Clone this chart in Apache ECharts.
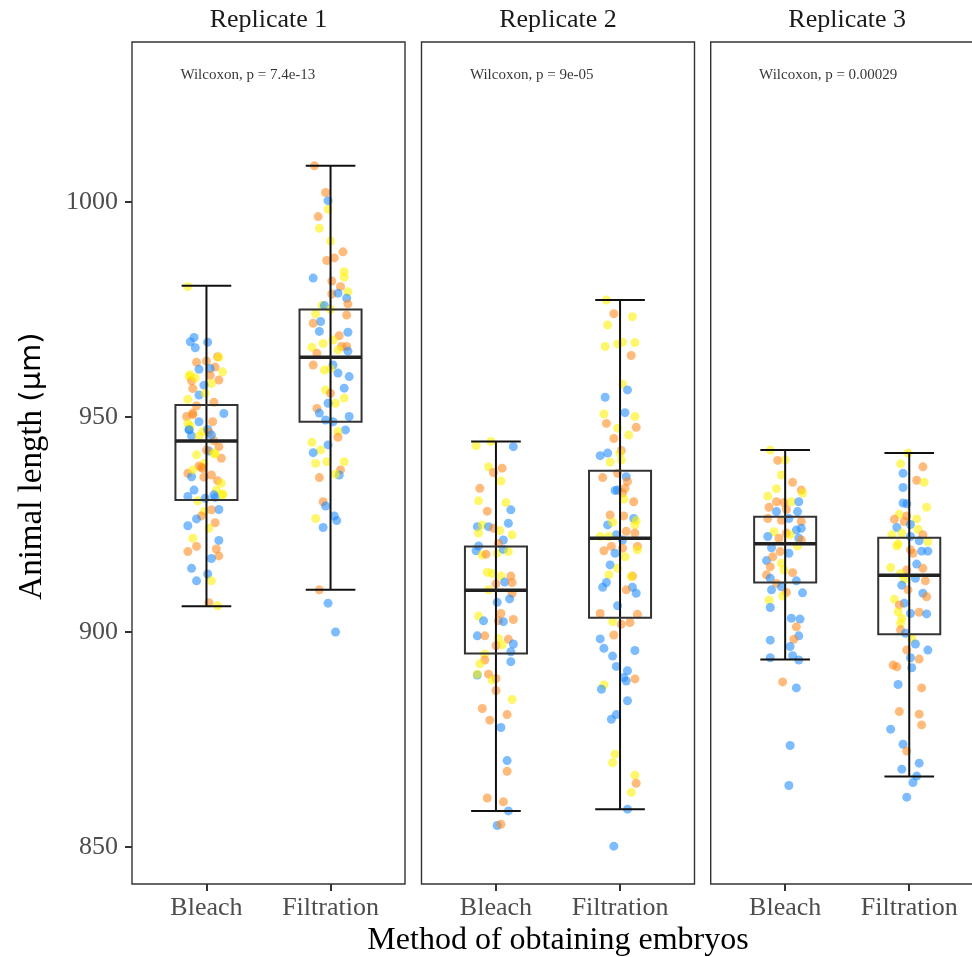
<!DOCTYPE html>
<html>
<head>
<meta charset="utf-8">
<script src="https://cdn.jsdelivr.net/npm/echarts@6/dist/echarts.min.js"></script>
<style>html,body{margin:0;padding:0;background:#fff;overflow:hidden;width:972px;height:957px}#c{width:990px;height:957px}</style>
</head>
<body>
<div id="c"></div>
<script>
// ---------- data ----------
const categories = ['Bleach', 'Filtration'];
const replicates = ['Replicate 1', 'Replicate 2', 'Replicate 3'];
const pLabels = ['Wilcoxon, p = 7.4e-13', 'Wilcoxon, p = 9e-05', 'Wilcoxon, p = 0.00029'];
const yTicks = [850, 900, 950, 1000];

// box statistics: [lower whisker, Q1, median, Q3, upper whisker]
const rep1Box = [[906.0, 930.7, 944.4, 952.8, 980.5], [909.8, 948.9, 963.9, 975.0, 1008.4]];
const rep2Box = [[858.4, 895.0, 909.7, 919.9, 944.3], [858.8, 903.3, 921.8, 937.5, 977.2]];
const rep3Box = [[893.6, 911.5, 920.5, 926.8, 942.3], [866.4, 899.5, 913.2, 921.9, 941.6]];

// jittered points: [jitter offset, length (µm), colour group]
const rep1Bleach = [[-0.15,980.3,'y'],[-0.13,967.5,'b'],[-0.10,968.5,'b'],[-0.09,966.1,'b'],[0.01,967.4,'b'],[0.09,964.0,'o'],[0.10,963.9,'y'],[-0.08,962.7,'o'],[0.00,963.0,'o'],[0.07,961.6,'o'],[0.13,960.5,'y'],[-0.06,961.1,'b'],[0.03,961.3,'b'],[-0.14,959.5,'y'],[-0.12,958.4,'o'],[0.03,959.7,'o'],[0.10,958.6,'o'],[0.04,957.8,'y'],[-0.11,956.6,'o'],[-0.02,957.4,'b'],[-0.06,955.1,'b'],[-0.01,955.5,'y'],[-0.15,954.1,'y'],[0.06,953.4,'o'],[-0.08,952.6,'o'],[0.14,950.8,'b'],[-0.16,950.1,'o'],[-0.11,950.5,'o'],[-0.06,948.9,'b'],[-0.15,948.5,'y'],[0.05,948.9,'o'],[-0.14,947.1,'b'],[-0.03,946.6,'y'],[0.01,947.1,'b'],[0.02,946.4,'o'],[-0.12,945.6,'b'],[-0.06,945.6,'y'],[0.06,944.5,'o'],[0.10,943.1,'o'],[-0.08,941.2,'y'],[0.02,942.1,'b'],[0.12,940.4,'o'],[0.07,941.4,'y'],[-0.06,938.6,'o'],[-0.02,939.2,'y'],[-0.04,938.3,'o'],[-0.15,936.9,'o'],[-0.12,936.1,'b'],[-0.02,936.0,'o'],[0.04,936.5,'o'],[0.09,935.2,'o'],[0.12,934.6,'y'],[-0.11,937.7,'y'],[-0.10,933.0,'b'],[0.08,933.0,'y'],[0.13,932.1,'y'],[-0.15,931.5,'b'],[-0.07,930.5,'y'],[-0.01,931.1,'b'],[0.07,931.3,'b'],[0.10,928.5,'b'],[0.04,928.4,'o'],[-0.02,928.0,'y'],[-0.04,927.0,'o'],[-0.08,926.3,'b'],[0.07,925.4,'o'],[-0.15,924.7,'b'],[0.02,924.1,'y'],[-0.11,921.8,'y'],[0.10,921.3,'b'],[-0.08,919.9,'o'],[0.08,919.3,'o'],[-0.15,918.7,'o'],[0.10,917.7,'o'],[0.04,917.1,'b'],[-0.12,914.8,'b'],[0.01,913.5,'b'],[0.04,911.9,'y'],[-0.08,911.9,'b'],[0.02,906.8,'o'],[0.09,906.1,'y'],[-0.11,950.9,'o'],[-0.13,947.9,'y'],[-0.14,947.0,'b'],[0.04,945.8,'b'],[0.00,942.3,'o'],[0.06,941.6,'y'],[-0.03,938.0,'o'],[0.06,931.9,'b'],[0.13,931.9,'y'],[-0.13,959.8,'y'],[-0.09,959.1,'y']];
const rep1Filtration = [[-0.13,1008.4,'o'],[-0.04,1002.2,'o'],[-0.02,1000.3,'b'],[-0.02,998.3,'y'],[-0.10,996.6,'o'],[-0.09,993.9,'y'],[0.00,990.9,'y'],[0.10,988.4,'o'],[0.03,987.0,'o'],[-0.03,986.4,'o'],[0.11,983.8,'y'],[0.11,982.5,'y'],[-0.14,982.3,'b'],[0.01,981.6,'o'],[0.08,980.3,'o'],[0.14,979.1,'y'],[0.01,978.6,'o'],[0.06,978.8,'b'],[0.13,977.6,'b'],[0.14,976.3,'o'],[-0.07,975.9,'y'],[-0.05,975.9,'b'],[0.00,975.0,'y'],[0.13,973.7,'o'],[-0.12,974.0,'y'],[-0.08,972.2,'b'],[-0.14,971.8,'o'],[-0.09,969.9,'b'],[0.14,969.7,'b'],[0.07,968.9,'o'],[0.02,967.9,'y'],[-0.06,967.1,'y'],[-0.15,966.2,'y'],[0.13,966.4,'o'],[0.09,966.4,'o'],[0.06,965.6,'y'],[-0.11,964.8,'o'],[0.14,965.3,'b'],[-0.14,962.1,'o'],[0.02,962.1,'b'],[-0.05,960.9,'y'],[0.00,961.2,'y'],[0.06,960.2,'b'],[0.15,959.4,'b'],[0.11,956.7,'b'],[-0.04,956.3,'y'],[0.00,955.5,'o'],[0.11,954.4,'y'],[0.04,953.2,'y'],[-0.02,953.2,'b'],[-0.11,952.0,'o'],[-0.09,950.9,'b'],[-0.04,949.3,'b'],[0.02,948.9,'b'],[0.15,950.1,'b'],[0.12,947.0,'b'],[0.06,946.6,'y'],[0.06,945.3,'o'],[-0.15,944.1,'y'],[-0.08,942.3,'y'],[-0.14,941.7,'b'],[-0.02,943.5,'b'],[-0.12,939.2,'y'],[-0.03,939.6,'y'],[0.11,939.6,'y'],[0.08,937.7,'o'],[0.07,936.5,'b'],[0.04,936.7,'y'],[-0.09,935.9,'o'],[-0.06,930.3,'o'],[-0.04,929.3,'b'],[-0.12,926.4,'y'],[0.03,927.0,'b'],[0.05,925.9,'b'],[-0.06,924.3,'b'],[-0.09,909.8,'o'],[-0.02,906.7,'b'],[0.04,900.0,'b']];
const rep2Bleach = [[-0.04,944.3,'y'],[-0.16,943.3,'y'],[0.14,943.1,'b'],[-0.06,938.4,'y'],[0.05,938.1,'o'],[-0.02,937.1,'o'],[0.04,935.1,'y'],[-0.13,933.4,'o'],[-0.14,930.5,'y'],[0.08,930.1,'y'],[0.12,928.4,'b'],[-0.07,928.1,'o'],[0.10,925.3,'b'],[-0.15,924.5,'b'],[-0.11,924.9,'y'],[-0.06,924.5,'b'],[-0.02,924.1,'o'],[0.03,923.6,'y'],[-0.14,923.0,'y'],[0.13,922.6,'y'],[0.06,921.4,'b'],[0.02,920.6,'o'],[-0.14,920.0,'b'],[-0.16,918.9,'b'],[-0.11,917.9,'y'],[-0.08,918.1,'o'],[0.01,918.3,'y'],[0.06,919.2,'b'],[0.10,918.7,'y'],[-0.07,913.9,'y'],[-0.03,913.6,'y'],[0.04,913.0,'y'],[0.12,913.0,'o'],[0.07,911.6,'b'],[0.13,911.5,'o'],[0.00,911.2,'o'],[-0.06,909.8,'y'],[0.13,909.0,'o'],[0.01,906.9,'b'],[0.11,907.7,'b'],[-0.14,903.7,'y'],[0.04,904.3,'o'],[-0.10,902.6,'b'],[0.02,902.6,'o'],[0.06,902.4,'b'],[0.14,902.9,'o'],[-0.15,899.1,'b'],[-0.09,899.1,'o'],[0.02,898.5,'y'],[0.10,898.3,'o'],[0.00,896.8,'o'],[0.05,897.0,'y'],[0.14,897.2,'b'],[0.12,895.4,'b'],[-0.09,894.9,'y'],[-0.09,893.5,'o'],[-0.13,892.6,'y'],[0.12,893.1,'b'],[-0.15,890.0,'b'],[-0.15,890.2,'y'],[-0.06,890.2,'o'],[0.00,889.2,'o'],[-0.03,888.8,'y'],[0.00,886.4,'o'],[0.13,884.3,'y'],[-0.11,882.2,'o'],[0.09,880.8,'o'],[-0.05,879.5,'o'],[0.04,877.8,'b'],[0.09,870.1,'b'],[0.09,867.6,'o'],[-0.07,861.4,'o'],[0.06,860.5,'o'],[0.10,858.4,'b'],[0.01,855.0,'b'],[0.04,855.3,'o']];
const rep2Filtration = [[-0.11,977.2,'y'],[-0.05,974.0,'o'],[0.10,973.3,'y'],[-0.10,971.4,'y'],[-0.12,966.4,'y'],[-0.02,967.0,'y'],[0.02,967.4,'y'],[0.12,967.3,'y'],[0.09,964.3,'o'],[0.02,957.6,'y'],[0.06,956.3,'b'],[-0.12,954.6,'b'],[0.04,951.0,'b'],[-0.13,950.7,'y'],[0.12,950.1,'y'],[-0.11,948.5,'o'],[0.13,947.6,'o'],[-0.02,947.4,'y'],[0.07,945.8,'y'],[-0.05,945.0,'o'],[-0.16,941.0,'b'],[-0.10,941.6,'b'],[0.01,942.2,'o'],[0.00,941.6,'y'],[-0.08,939.5,'y'],[0.01,940.0,'y'],[-0.02,936.9,'o'],[-0.14,935.9,'o'],[0.05,936.1,'b'],[0.06,935.0,'o'],[0.04,933.4,'o'],[-0.04,932.9,'b'],[-0.02,933.0,'b'],[0.02,932.3,'o'],[0.03,930.9,'y'],[0.11,930.3,'o'],[-0.08,927.2,'o'],[0.03,927.0,'o'],[0.11,926.4,'b'],[0.13,925.9,'y'],[-0.10,924.9,'b'],[-0.06,925.5,'y'],[0.12,924.9,'y'],[0.05,923.4,'o'],[0.12,923.0,'o'],[-0.03,922.6,'b'],[-0.16,922.2,'y'],[-0.09,922.2,'y'],[0.02,921.4,'b'],[-0.07,919.9,'o'],[0.02,919.5,'o'],[-0.13,918.9,'o'],[-0.04,918.3,'b'],[0.14,919.9,'o'],[0.14,919.1,'y'],[0.04,917.5,'y'],[-0.08,915.6,'b'],[-0.02,914.8,'y'],[-0.09,913.3,'y'],[0.10,913.0,'o'],[0.09,912.9,'y'],[-0.11,911.5,'b'],[-0.14,910.4,'b'],[0.10,910.4,'b'],[0.05,909.8,'o'],[0.13,909.0,'b'],[-0.02,906.1,'b'],[-0.16,904.3,'o'],[0.14,904.1,'o'],[-0.06,902.4,'y'],[0.01,901.8,'o'],[0.08,902.2,'o'],[-0.05,899.3,'o'],[-0.16,898.4,'b'],[-0.13,896.2,'b'],[0.12,895.7,'b'],[-0.06,894.4,'b'],[-0.03,892.0,'b'],[0.06,891.0,'b'],[0.03,889.4,'b'],[0.05,888.6,'b'],[0.12,889.1,'o'],[-0.13,887.7,'y'],[-0.15,886.7,'b'],[0.06,884.0,'b'],[-0.03,880.8,'b'],[-0.07,879.7,'b'],[-0.04,871.6,'y'],[-0.06,869.6,'y'],[0.12,866.7,'y'],[0.13,864.8,'o'],[0.09,862.7,'y'],[0.06,858.8,'b'],[-0.05,850.2,'b']];
const rep3Bleach = [[-0.12,942.3,'y'],[-0.06,939.9,'o'],[0.00,940.0,'y'],[-0.03,936.5,'y'],[0.06,934.8,'o'],[-0.07,933.3,'y'],[0.13,933.0,'o'],[0.14,932.3,'y'],[-0.14,931.6,'y'],[-0.07,930.3,'o'],[-0.01,930.1,'o'],[0.05,930.3,'y'],[0.11,930.3,'b'],[-0.13,929.0,'o'],[-0.07,928.0,'b'],[0.01,928.5,'o'],[0.10,928.0,'b'],[-0.14,926.4,'o'],[-0.03,926.0,'o'],[0.03,926.4,'b'],[0.13,925.7,'o'],[0.09,923.7,'b'],[0.13,924.1,'b'],[-0.09,923.3,'y'],[0.01,923.0,'o'],[-0.14,922.2,'b'],[-0.05,921.8,'o'],[0.04,922.6,'y'],[0.11,921.8,'b'],[0.13,921.4,'o'],[0.10,920.0,'y'],[-0.11,919.6,'b'],[-0.04,918.7,'o'],[0.03,918.3,'b'],[-0.15,916.6,'b'],[-0.10,917.5,'o'],[-0.12,915.2,'o'],[-0.03,916.0,'y'],[-0.01,914.4,'y'],[-0.15,913.3,'o'],[0.06,913.8,'o'],[-0.12,912.5,'b'],[-0.07,911.3,'o'],[0.09,911.9,'b'],[-0.03,910.5,'b'],[-0.11,909.8,'b'],[0.01,909.2,'o'],[-0.02,908.4,'y'],[0.14,909.1,'b'],[-0.13,907.4,'y'],[-0.12,905.7,'b'],[0.05,903.2,'b'],[0.12,903.0,'b'],[0.09,901.2,'o'],[0.11,899.1,'b'],[0.07,898.3,'o'],[-0.12,898.1,'b'],[0.04,896.6,'b'],[0.06,894.5,'b'],[-0.12,894.0,'b'],[0.11,893.5,'b'],[-0.02,888.4,'o'],[0.09,887.0,'b'],[0.04,873.6,'b'],[0.03,864.3,'b']];
const rep3Filtration = [[-0.01,941.6,'y'],[-0.07,939.1,'y'],[0.11,938.4,'o'],[-0.05,936.9,'b'],[0.06,935.3,'o'],[0.12,934.8,'y'],[-0.05,933.6,'b'],[-0.05,930.0,'b'],[-0.02,929.8,'b'],[0.14,929.0,'y'],[-0.08,927.4,'y'],[-0.12,926.2,'o'],[-0.04,925.7,'o'],[0.06,926.3,'y'],[-0.02,927.0,'o'],[-0.10,924.3,'b'],[0.01,925.0,'b'],[0.07,923.9,'y'],[-0.14,922.6,'y'],[-0.06,923.0,'y'],[0.11,922.6,'o'],[0.01,922.2,'b'],[-0.09,920.5,'y'],[0.08,921.2,'b'],[0.15,921.0,'y'],[0.10,918.8,'b'],[0.15,918.8,'b'],[0.01,919.1,'o'],[0.03,918.3,'o'],[-0.10,920.0,'y'],[0.06,915.8,'b'],[-0.15,915.0,'y'],[-0.02,914.4,'o'],[0.11,914.8,'o'],[-0.07,913.6,'y'],[-0.04,912.2,'y'],[-0.06,910.9,'b'],[0.05,912.5,'b'],[0.13,911.9,'o'],[-0.01,909.8,'o'],[0.11,909.0,'b'],[0.14,908.2,'o'],[-0.12,907.6,'y'],[-0.04,906.7,'b'],[-0.08,906.3,'o'],[0.08,904.6,'o'],[-0.09,904.7,'y'],[0.14,904.2,'b'],[-0.06,903.2,'y'],[0.01,904.3,'b'],[-0.07,902.0,'y'],[-0.07,900.5,'o'],[-0.03,899.7,'b'],[0.02,898.5,'y'],[0.05,897.2,'b'],[-0.02,895.8,'o'],[0.15,895.8,'b'],[0.01,894.0,'b'],[0.08,893.7,'o'],[-0.13,892.3,'o'],[-0.10,891.9,'o'],[0.02,891.7,'b'],[-0.09,887.8,'b'],[0.10,887.0,'o'],[-0.08,881.5,'o'],[0.08,880.9,'o'],[0.10,878.4,'o'],[-0.15,877.4,'b'],[-0.05,873.9,'b'],[-0.02,872.3,'o'],[0.08,869.5,'b'],[-0.06,868.1,'b'],[0.06,866.5,'b'],[0.03,865.0,'b'],[-0.02,861.6,'b']];

// ---------- styling / layout ----------
const colorMap = { b: '#1E8CFF', o: '#FF8A1C', y: '#FFF200' };
const panelLeft = [132, 421.5, 710.7];
const panelW = 273, panelTop = 42, panelH = 842;
const SERIF = 'Liberation Serif';

const boxes = [rep1Box, rep2Box, rep3Box];
const points = [[rep1Bleach, rep1Filtration], [rep2Bleach, rep2Filtration], [rep3Bleach, rep3Filtration]];

const grid = [], xAxis = [], yAxis = [], series = [];
for (let i = 0; i < 3; i++) {
  grid.push({ left: panelLeft[i], top: panelTop, width: panelW, height: panelH,
    show: true, borderColor: '#333', borderWidth: 1.4, backgroundColor: 'transparent' });
  xAxis.push({ type: 'value', gridIndex: i, min: 0.4, max: 2.6,
    axisLine: { show: false }, splitLine: { show: false },
    axisTick: { show: true, customValues: [1, 2], length: 7, lineStyle: { color: '#333', width: 2 } },
    axisLabel: { show: true, customValues: [1, 2], margin: 11,
      formatter: v => categories[Math.round(v) - 1],
      fontFamily: SERIF, fontSize: 26, color: '#4D4D4D' } });
  yAxis.push({ type: 'value', gridIndex: i, min: 841.4, max: 1037.2,
    axisLine: { show: false }, splitLine: { show: false },
    axisTick: { show: i === 0, customValues: yTicks, length: 7, lineStyle: { color: '#333', width: 2 } },
    axisLabel: { show: i === 0, customValues: yTicks, margin: 14, formatter: v => String(v),
      fontFamily: SERIF, fontSize: 26, color: '#4D4D4D' } });

  const pts = [];
  points[i].forEach((arr, k) => arr.forEach(p => pts.push([k + 1 + p[0], p[1], p[2]])));
  series.push({ type: 'scatter', xAxisIndex: i, yAxisIndex: i, data: pts, symbolSize: 9, z: 2, silent: true,
    itemStyle: { color: p => colorMap[p.data[2]], opacity: 0.58 } });

  series.push({ type: 'custom', xAxisIndex: i, yAxisIndex: i, z: 3, silent: true,
    data: boxes[i].map((s, k) => [k + 1].concat(s)),
    renderItem: (params, api) => {
      const x = api.value(0);
      const lo = api.coord([x, api.value(1)]), q1 = api.coord([x, api.value(2)]),
            md = api.coord([x, api.value(3)]), q3 = api.coord([x, api.value(4)]),
            hi = api.coord([x, api.value(5)]);
      const bw = api.size([0.5, 0])[0] / 2, cw = api.size([0.4, 0])[0] / 2;
      const cx = lo[0];
      const blk = { stroke: '#111', lineWidth: 2 };
      return { type: 'group', children: [
        { type: 'line', shape: { x1: cx, y1: hi[1], x2: cx, y2: lo[1] }, style: blk },
        { type: 'line', shape: { x1: cx - cw, y1: hi[1], x2: cx + cw, y2: hi[1] }, style: blk },
        { type: 'line', shape: { x1: cx - cw, y1: lo[1], x2: cx + cw, y2: lo[1] }, style: blk },
        { type: 'rect', shape: { x: cx - bw, y: q3[1], width: 2 * bw, height: q1[1] - q3[1] },
          style: { fill: 'none', stroke: '#333', lineWidth: 2 } },
        { type: 'line', shape: { x1: cx - bw, y1: md[1], x2: cx + bw, y2: md[1] },
          style: { stroke: '#222', lineWidth: 3.5 } }
      ] };
    } });

  series.push({ type: 'scatter', xAxisIndex: i, yAxisIndex: i, data: [[0.79, 1029.5]], symbolSize: 0, z: 4, silent: true,
    label: { show: true, position: 'right', distance: 0, formatter: pLabels[i],
      fontFamily: SERIF, fontSize: 15, color: '#000' } });
}

const graphic = replicates.map((r, i) => ({ type: 'text', x: panelLeft[i] + panelW / 2, y: 20,
  style: { text: r, fontFamily: SERIF, fontSize: 26, fill: '#1A1A1A', textAlign: 'center', textVerticalAlign: 'middle' } }));
graphic.push({ type: 'text', x: 558, y: 941,
  style: { text: 'Method of obtaining embryos', fontFamily: SERIF, fontSize: 32, fill: '#000', textAlign: 'center', textVerticalAlign: 'middle' } });
graphic.push({ type: 'text', x: 32, y: 466, rotation: Math.PI / 2,
  style: { text: '{a|Animal length }{b|(μm)}', textAlign: 'center', textVerticalAlign: 'middle',
    rich: { a: { fontFamily: SERIF, fontSize: 33, fill: '#000' }, b: { fontFamily: 'DejaVu Sans', fontSize: 29, fill: '#000' } } } });

const chart = echarts.init(document.getElementById('c'), null, { renderer: 'canvas' });
chart.setOption({ animation: false, backgroundColor: '#fff', grid, xAxis, yAxis, series, graphic });
</script>
</body>
</html>
